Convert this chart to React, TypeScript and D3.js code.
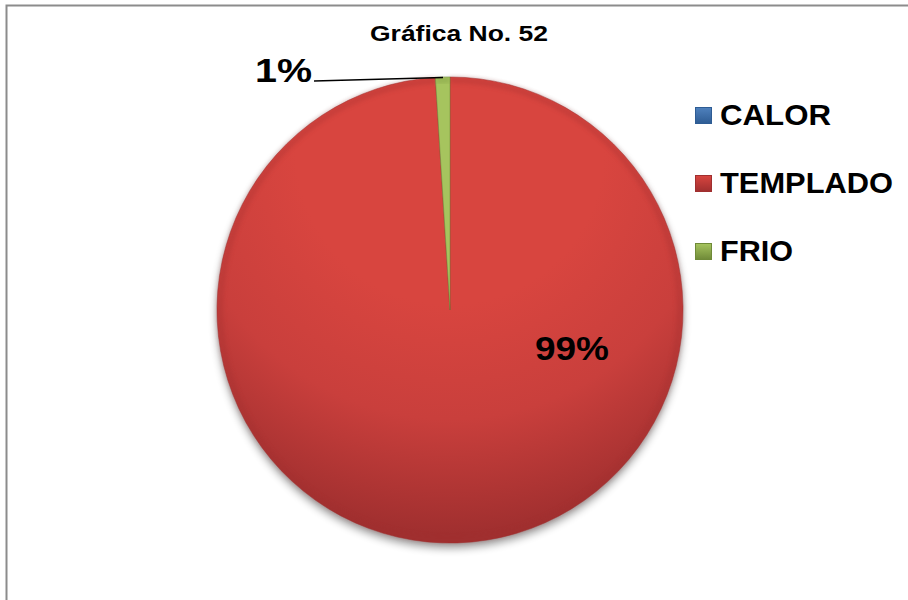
import React from "react";
import * as d3 from "d3";

const categories = ["CALOR", "TEMPLADO", "FRIO"];
const values = [0, 99, 1];
const labels = ["", "99%", "1%"];
const colors = ["#4F81BD", "#D8453F", "#A6C45E"];
const midColors = ["#4A7AB5", "#C93F3C", "#94B453"];
const darkColors = ["#2E5C94", "#A02F2F", "#6F8A38"];
const title = "Gráfica No. 52";

export default function App() {
  const W = 908, H = 600;
  const cx = 450, cy = 310, r = 233;
  const pie = d3.pie<number>().sort(null).value((d) => d)(values);
  const arc = d3.arc<d3.PieArcDatum<number>>().innerRadius(0).outerRadius(r);
  const rim = d3.arc<d3.PieArcDatum<number>>().innerRadius(r - 6).outerRadius(r);
  const font = "'Liberation Sans', Arial, sans-serif";
  const legendY = d3.scalePoint<string>().domain(categories).range([115, 251]);
  const legendLen = [111, 173, 73];
  return (
    <div style={{ position: "absolute", left: 0, top: 0 }}>
      <svg width={W} height={H} style={{ display: "block" }}>
        <defs>
          {categories.map((c, i) => (
            <radialGradient key={c} id={`g${i}`} cx={0} cy={-160} r={r * 1.65} gradientUnits="userSpaceOnUse">
              <stop offset="0" stopColor={colors[i]} />
              <stop offset="0.4" stopColor={colors[i]} />
              <stop offset="0.7" stopColor={midColors[i]} />
              <stop offset="1" stopColor={darkColors[i]} />
            </radialGradient>
          ))}
          {categories.map((c, i) => (
            <linearGradient key={c} id={`l${i}`} x1="0" y1="0" x2="0" y2="1">
              <stop offset="0" stopColor={colors[i]} />
              <stop offset="1" stopColor={darkColors[i]} />
            </linearGradient>
          ))}
          <filter id="shadow" x="-20%" y="-20%" width="140%" height="140%">
            <feGaussianBlur stdDeviation="4" />
          </filter>
          <filter id="soft" x="-5%" y="-5%" width="110%" height="110%">
            <feGaussianBlur stdDeviation="2" />
          </filter>
        </defs>
        <rect x={0} y={0} width={W} height={H} fill="#fff" />
        <path d={`M6.5,${H} V5.5 H${W}`} fill="none" stroke="#8c8c8c" strokeWidth={2} />
        <text x={459} y={41} textAnchor="middle" textLength={178} lengthAdjust="spacingAndGlyphs" fontFamily={font} fontWeight="bold" fontSize={22} fill="#000">{title}</text>
        <ellipse cx={cx} cy={cy + 5} rx={r} ry={r} fill="#000" opacity={0.4} filter="url(#shadow)" />
        <g transform={`translate(${cx},${cy})`}>
          {pie.map((p, i) =>
            p.value > 0 ? (
              <g key={i}>
                <path d={arc(p) || ""} fill={`url(#g${i})`} />
                <path d={rim(p) || ""} fill={darkColors[i]} opacity={0.3} filter="url(#soft)" />
                <path d={arc(p) || ""} fill="none" stroke={darkColors[i]} strokeOpacity={0.5} strokeWidth={1} />
              </g>
            ) : null
          )}
        </g>
        <text x={572} y={360} textAnchor="middle" textLength={74} lengthAdjust="spacingAndGlyphs" fontFamily={font} fontWeight="bold" fontSize={34} fill="#000">{labels[1]}</text>
        <text x={283.5} y={82} textAnchor="middle" textLength={57} lengthAdjust="spacingAndGlyphs" fontFamily={font} fontWeight="bold" fontSize={34} fill="#000">{labels[2]}</text>
        <path d={`M314,81 L${cx - 7},${cy - r + 0.5}`} stroke="#000" strokeWidth={1.5} fill="none" />
        {categories.map((c, i) => (
          <g key={c}>
            <rect x={695.5} y={legendY(c)! - 7.5} width={16} height={16} fill={`url(#l${i})`} stroke={darkColors[i]} strokeWidth={1} />
            <text x={720} y={legendY(c)! + 10} textLength={legendLen[i]} lengthAdjust="spacingAndGlyphs" fontFamily={font} fontWeight="bold" fontSize={30} fill="#000">{c}</text>
          </g>
        ))}
      </svg>
    </div>
  );
}
